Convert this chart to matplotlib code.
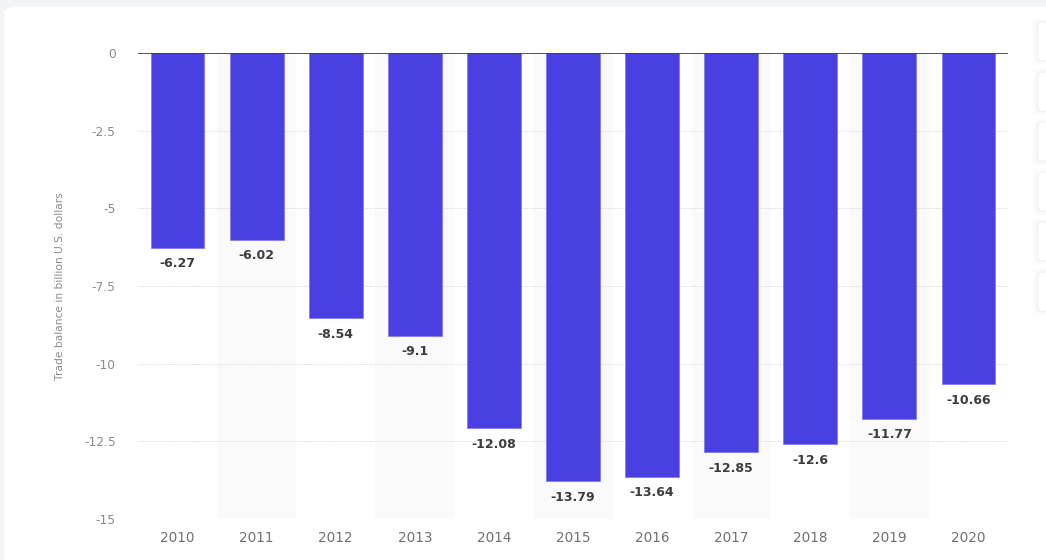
import matplotlib.pyplot as plt
from matplotlib.patches import FancyBboxPatch

years = ['2010', '2011', '2012', '2013', '2014', '2015', '2016', '2017', '2018', '2019', '2020']
balance = [-6.27, -6.02, -8.54, -9.1, -12.08, -13.79, -13.64, -12.85, -12.6, -11.77, -10.66]
y_ticks = [0, -2.5, -5, -7.5, -10, -12.5, -15]
y_label = 'Trade balance in billion U.S. dollars'

plt.rcParams['font.family'] = ['DejaVu Sans']

fig = plt.figure(figsize=(10.46, 5.6), dpi=100)
fig.patch.set_facecolor('#f3f4f7')

# white card behind the chart
card = FancyBboxPatch((4 / 1046, -0.1), 1.2, 1 - 7 / 560 + 0.1,
                      boxstyle='round,pad=0,rounding_size=0.012',
                      transform=fig.transFigure, facecolor='white',
                      edgecolor='none', zorder=-2)
fig.patches.append(card)

# little side buttons on the right edge
for i in range(6):
    top = 22 + i * 50
    for k, a in enumerate([0.04, 0.03, 0.02]):
        sh = FancyBboxPatch(((1038 - 2 - k * 2) / 1046, 1 - (top + 40 + k * 2) / 560),
                            0.1, (40 + k * 4) / 560,
                            boxstyle='round,pad=0,rounding_size=0.006',
                            transform=fig.transFigure, facecolor='#9aa0b8',
                            alpha=a, edgecolor='none', zorder=-1)
        fig.patches.append(sh)
    btn = FancyBboxPatch((1038 / 1046, 1 - (top + 39) / 560), 0.1, 39 / 560,
                         boxstyle='round,pad=0,rounding_size=0.006',
                         transform=fig.transFigure, facecolor='white',
                         edgecolor='#eeeff3', lw=0.6, zorder=-1)
    fig.patches.append(btn)

ax = fig.add_axes([138 / 1046, 1 - 519 / 560, 870 / 1046, 466 / 560])
ax.set_facecolor('none')

x = list(range(len(years)))

# alternating column stripes
for i in x:
    if i % 2 == 1:
        ax.axvspan(i - 0.5, i + 0.5, color='#fafafa', lw=0, zorder=0)

for t in y_ticks[1:]:
    ax.axhline(t, color='#d0d0d0', lw=0.7, ls=(0, (1, 1.5)), zorder=1)

ax.bar(x, balance, width=0.68, color='#4a3fe0', edgecolor='#7d75ee', lw=0.5, zorder=2)
ax.axhline(0, color='#333333', lw=1.2, zorder=3)

for xi, v in zip(x, balance):
    ax.annotate('{:g}'.format(v), (xi, v), xytext=(0, -11.5), textcoords='offset points',
                ha='center', va='center', fontsize=9, fontweight='bold', color='#3c3c3c', zorder=4)

ax.set_xlim(-0.5, len(years) - 0.5)
ax.set_ylim(-15, 0)
ax.set_xticks(x)
ax.set_xticklabels(years)
ax.set_yticks(y_ticks)
ax.set_yticklabels(['{:g}'.format(t) for t in y_ticks])
ax.tick_params(axis='x', length=0, pad=8.5, labelsize=9.8, labelcolor='#707070')
ax.tick_params(axis='y', length=0, pad=16, labelsize=8.8, labelcolor='#8a8a8a')
for s in ax.spines.values():
    s.set_visible(False)

ax.set_ylabel(y_label, fontsize=7.7, color='#8a8a8a')
ax.yaxis.set_label_coords(-0.0839, 0.5)

fig.savefig('out.png', dpi=100, facecolor=fig.get_facecolor())
